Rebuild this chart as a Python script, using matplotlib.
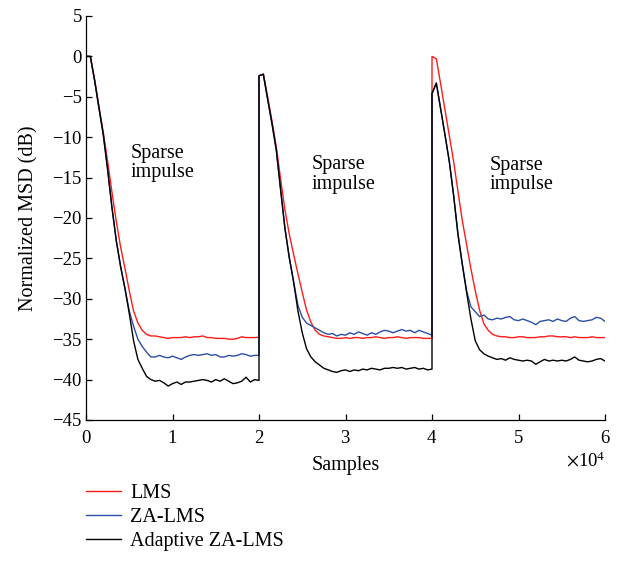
import numpy as np
import matplotlib
matplotlib.use("Agg")
import matplotlib.pyplot as plt

plt.rcParams['font.family'] = ['Liberation Serif', 'DejaVu Serif']
plt.rcParams['mathtext.fontset'] = 'stix'

# sample grid in units of 1e4 samples; each segment starts with the jump point
seg1_x = np.linspace(0.0, 2.0, 41)
seg2_x = np.linspace(2.0, 4.0, 41)
seg3_x = np.linspace(4.0, 6.0, 41)

# --- LMS (red), dB
lms_1 = [0, 0, -2.9, -6.2, -9.4, -13.0, -16.8, -20.4, -23.6, -26.2,
         -29.0, -31.5, -33.0, -33.9, -34.4, -34.6, -34.6, -34.7, -34.8, -34.9,
         -34.8, -34.8, -34.8, -34.7, -34.8, -34.7, -34.7, -34.6, -34.8, -34.8,
         -34.9, -34.9, -34.9, -35.0, -35.0, -34.9, -34.7, -34.8, -34.8, -34.8,
         -34.75]
lms_2 = [-2.4, -2.2, -5.0, -8.0, -11.2, -15.2, -19.0, -22.0, -24.5, -26.9,
         -29.2, -31.4, -32.9, -33.9, -34.4, -34.6, -34.7, -34.8, -34.9, -34.9,
         -34.8, -34.9, -34.8, -34.8, -34.9, -34.8, -34.8, -34.7, -34.8, -34.9,
         -34.8, -34.8, -34.7, -34.8, -34.9, -34.8, -34.8, -34.8, -34.9, -34.9,
         -34.9]
lms_3 = [0.0, -0.3, -3.4, -6.6, -9.8, -13.0, -16.7, -20.3, -23.3, -26.3,
         -29.0, -31.4, -33.1, -33.9, -34.4, -34.6, -34.7, -34.7, -34.8, -34.8,
         -34.7, -34.7, -34.8, -34.8, -34.8, -34.7, -34.7, -34.6, -34.6, -34.7,
         -34.7, -34.7, -34.8, -34.7, -34.8, -34.8, -34.8, -34.7, -34.8, -34.8,
         -34.8]

# --- ZA-LMS (blue)
za_1 = [0, 0, -3.0, -6.4, -9.7, -14.0, -18.7, -22.8, -26.0, -28.7,
        -31.5, -33.4, -35.0, -35.9, -36.6, -37.2, -37.2, -37.0, -37.2, -37.3,
        -37.1, -37.3, -37.5, -37.2, -37.0, -36.9, -37.0, -36.9, -36.8, -37.0,
        -36.9, -37.2, -37.2, -37.0, -37.1, -37.0, -36.8, -36.9, -37.1, -37.0,
        -37.0]
za_2 = [-2.4, -2.2, -5.3, -8.3, -11.6, -16.5, -21.3, -24.9, -27.9, -30.8,
        -32.3, -33.0, -33.3, -33.6, -33.9, -34.2, -34.4, -34.3, -34.6, -34.4,
        -34.5, -34.2, -34.4, -34.1, -34.3, -34.5, -34.2, -34.4, -34.1, -33.9,
        -34.0, -34.2, -34.0, -33.8, -34.0, -33.9, -34.2, -33.9, -34.1, -34.3,
        -34.5]
za_3 = [-4.6, -3.3, -6.5, -9.7, -13.0, -17.2, -22.0, -25.7, -29.0, -31.0,
        -31.6, -32.2, -32.0, -32.5, -32.6, -32.4, -32.5, -32.3, -32.2, -32.6,
        -32.7, -32.5, -32.7, -32.9, -33.2, -32.8, -32.7, -32.6, -32.8, -32.5,
        -32.7, -32.8, -32.4, -32.2, -32.7, -32.8, -32.7, -32.6, -32.3, -32.4,
        -32.8]

# --- Adaptive ZA-LMS (black)
aza_1 = [0, 0, -3.0, -6.4, -9.7, -14.0, -18.7, -22.8, -26.0, -28.7,
         -31.8, -35.2, -37.5, -38.6, -39.6, -40.0, -40.2, -40.1, -40.4, -40.8,
         -40.5, -40.3, -40.6, -40.3, -40.3, -40.2, -40.1, -40.0, -40.1, -40.3,
         -40.0, -40.2, -39.9, -40.2, -40.5, -40.4, -40.2, -39.7, -40.3, -40.0,
         -40.1]
aza_2 = [-2.4, -2.2, -5.3, -8.3, -11.6, -16.5, -21.3, -24.9, -27.9, -31.5,
         -34.2, -36.2, -37.2, -37.8, -38.2, -38.6, -38.8, -39.0, -39.1, -38.9,
         -38.8, -39.0, -38.8, -38.9, -38.7, -38.8, -38.6, -38.7, -38.8, -38.6,
         -38.6, -38.5, -38.6, -38.5, -38.7, -38.6, -38.5, -38.7, -38.6, -38.8,
         -38.7]
aza_3 = [-4.6, -3.3, -6.5, -9.7, -13.0, -17.2, -22.0, -25.7, -29.2, -32.5,
         -35.2, -36.3, -36.8, -37.1, -37.3, -37.5, -37.4, -37.6, -37.3, -37.5,
         -37.6, -37.7, -37.6, -37.7, -38.1, -37.8, -37.5, -37.7, -37.6, -37.7,
         -37.6, -37.7, -37.5, -37.2, -37.6, -37.7, -37.8, -37.7, -37.5, -37.4,
         -37.7]

labels = ['LMS', 'ZA-LMS', 'Adaptive ZA-LMS']
colors = ['#ff1a1a', '#2b4ea6', '#000000']

x = np.concatenate([seg1_x, seg2_x, seg3_x]) * 1e4
series = [lms_1 + lms_2 + lms_3, za_1 + za_2 + za_3, aza_1 + aza_2 + aza_3]

fig = plt.figure(figsize=(6.24, 5.80), dpi=100)
ax = fig.add_axes([86/624, 1 - 420/580, 519/624, 404/580])

for y, c, lab in zip(series, colors, labels):
    ax.plot(x, y, color=c, lw=1.0, label=lab)

ax.set_xlim(0, 6e4)
ax.set_ylim(-45, 5)
ax.set_yticks(np.arange(-45, 6, 5))
ax.set_xticks(np.arange(0, 6.1e4, 1e4))
ax.ticklabel_format(axis='x', style='sci', scilimits=(4, 4), useMathText=True)
ax.xaxis.get_offset_text().set_fontsize(13.5)

for s in ['top', 'right']:
    ax.spines[s].set_visible(False)
for s in ['left', 'bottom']:
    ax.spines[s].set_linewidth(0.9)
ax.tick_params(direction='in', length=4, width=0.9, labelsize=13.5)
ax.tick_params(axis='y', pad=3)
ax.tick_params(axis='x', pad=7)

ax.set_xlabel('Samples', fontsize=14.5, labelpad=7)
ax.set_ylabel('Normalized MSD (dB)', fontsize=14.5, labelpad=10)

for tx, ty in [(0.52, -10.8), (2.61, -12.2), (4.67, -12.3)]:
    ax.text(tx * 1e4, ty, 'Sparse\nimpulse', fontsize=14.5, va='top', ha='left',
            linespacing=1.05)

fig.legend(loc='upper left', bbox_to_anchor=(86/624, 1 - 484/580), frameon=False,
           fontsize=14.5, borderaxespad=0, borderpad=0, handlelength=1.75,
           handletextpad=0.45, labelspacing=0.25)

fig.savefig('out.png', dpi=100)
